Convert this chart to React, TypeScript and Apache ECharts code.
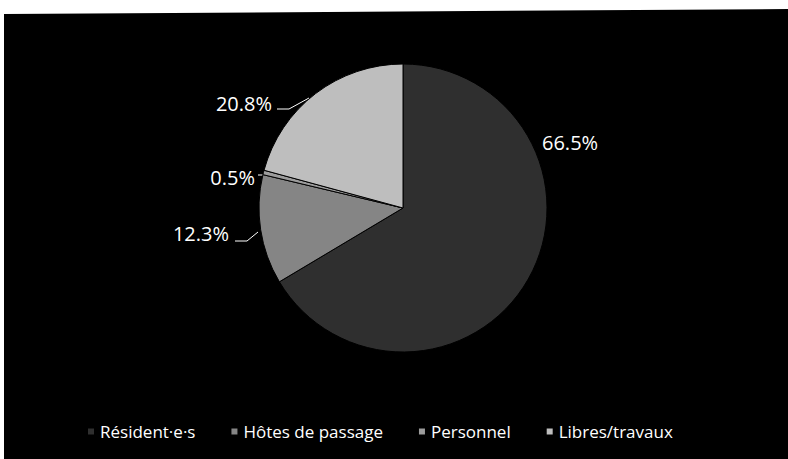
import React, { useEffect, useRef } from "react";
import * as echarts from "echarts";

const categories = ["Résident·e·s", "Hôtes de passage", "Personnel", "Libres/travaux"];
const values = [66.5, 12.3, 0.5, 20.8];
const colors = ["#2f2f2f", "#858585", "#9c9c9c", "#bebebe"];

// label placement (style only)
const labelPlacement: any[] = [
  { x: 542, y: 142, align: "left", line: null },
  { x: 229, y: 233, align: "right", line: [[258, 232], [247, 241], [235, 241]] },
  { x: 255, y: 177, align: "right", line: [[264, 175], [261, 175], [258, 175]] },
  { x: 272, y: 103, align: "right", line: [[309, 98], [289, 109], [277, 109]] },
];

export default function App() {
  const ref = useRef<HTMLDivElement>(null);
  useEffect(() => {
    const chart = echarts.init(ref.current!, null, { renderer: "svg" });
    chart.setOption({
      animation: false,
      backgroundColor: "#ffffff",
      graphic: [
        {
          type: "polygon",
          z: -10,
          silent: true,
          shape: { points: [[4, 14], [788, 9], [788, 459], [4, 459]] },
          style: { fill: "#000000" },
        },
      ],
      legend: {
        data: categories,
        left: 81,
        top: 418,
        icon: "rect",
        itemWidth: 8,
        itemHeight: 8,
        itemGap: 34,
        textStyle: { color: "#ffffff", fontSize: 17, fontFamily: "Open Sans" },
      },
      series: [
        {
          type: "pie",
          center: [403, 208],
          radius: 144,
          startAngle: 90,
          clockwise: true,
          avoidLabelOverlap: false,
          itemStyle: { borderColor: "#000", borderWidth: 1 },
          label: {
            show: true,
            position: "outside",
            color: "#ffffff",
            fontSize: 20,
            fontFamily: "Open Sans",
            formatter: (p: any) => `${Number(p.value).toFixed(1)}%`,
          },
          labelLine: { show: true, lineStyle: { color: "#ffffff", width: 1 } },
          labelLayout: (params: any) => {
            const pl = labelPlacement[params.dataIndex];
            const res: any = { x: pl.x, y: pl.y, align: pl.align, verticalAlign: "middle" };
            if (pl.line) res.labelLinePoints = pl.line;
            return res;
          },
          data: categories.map((name, i) => ({
            name,
            value: values[i],
            itemStyle: { color: colors[i] },
            labelLine: { show: labelPlacement[i].line !== null },
          })),
        },
      ],
    });
    return () => chart.dispose();
  }, []);
  return (
    <div
      ref={ref}
      style={{ position: "fixed", left: 0, top: 0, width: 788, height: 459 }}
    />
  );
}
